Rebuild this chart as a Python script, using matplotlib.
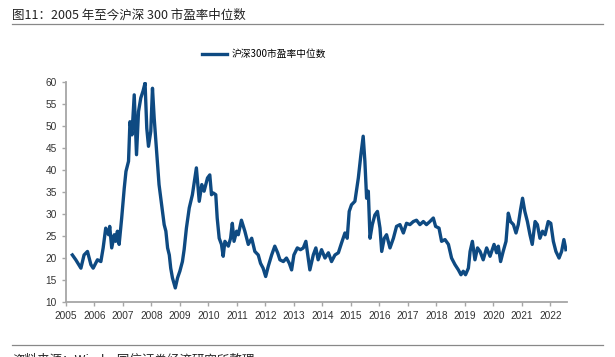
import numpy as np
import matplotlib
matplotlib.use("Agg")
import matplotlib.pyplot as plt

plt.rcParams['font.family'] = ['Noto Sans CJK SC', 'DejaVu Sans']

# decimal year, PE median
years = [
    2005.23, 2005.35, 2005.53, 2005.64, 2005.76, 2005.88, 2005.96, 2006.11, 2006.23, 2006.31,
    2006.40, 2006.50, 2006.54, 2006.61, 2006.70, 2006.75, 2006.81, 2006.87, 2006.96, 2007.05,
    2007.11, 2007.20, 2007.25, 2007.32, 2007.40, 2007.48, 2007.55, 2007.63, 2007.71, 2007.78,
    2007.84, 2007.90, 2007.98, 2008.04, 2008.10, 2008.16, 2008.22, 2008.27, 2008.33, 2008.39,
    2008.45, 2008.51, 2008.57, 2008.63, 2008.68, 2008.74, 2008.84, 2008.92, 2009.00, 2009.09,
    2009.15, 2009.23, 2009.33, 2009.44, 2009.58, 2009.68, 2009.77, 2009.85, 2009.97, 2010.05,
    2010.11, 2010.17, 2010.26, 2010.31, 2010.38, 2010.46, 2010.52, 2010.58, 2010.70, 2010.78,
    2010.84, 2010.90, 2010.99, 2011.05, 2011.16, 2011.28, 2011.40, 2011.52, 2011.63, 2011.75,
    2011.83, 2011.92, 2012.01, 2012.10, 2012.22, 2012.33, 2012.43, 2012.51, 2012.63, 2012.74,
    2012.84, 2012.92, 2013.00, 2013.12, 2013.23, 2013.33, 2013.42, 2013.50, 2013.56, 2013.68,
    2013.77, 2013.85, 2013.97, 2014.09, 2014.21, 2014.32, 2014.44, 2014.56, 2014.67, 2014.79,
    2014.87, 2014.94, 2015.02, 2015.14, 2015.26, 2015.35, 2015.43, 2015.49, 2015.55, 2015.61,
    2015.67, 2015.75, 2015.84, 2015.93, 2016.02, 2016.08, 2016.17, 2016.25, 2016.37, 2016.49,
    2016.60, 2016.72, 2016.84, 2016.95, 2017.07, 2017.19, 2017.30, 2017.42, 2017.54, 2017.65,
    2017.77, 2017.89, 2017.97, 2018.09, 2018.18, 2018.30, 2018.42, 2018.53, 2018.65, 2018.77,
    2018.86, 2018.94, 2019.02, 2019.12, 2019.18, 2019.26, 2019.35, 2019.44, 2019.53, 2019.64,
    2019.76, 2019.88, 2020.02, 2020.11, 2020.17, 2020.25, 2020.34, 2020.44, 2020.52, 2020.60,
    2020.70, 2020.79, 2020.87, 2020.95, 2021.02, 2021.10, 2021.19, 2021.28, 2021.36, 2021.46,
    2021.54, 2021.63, 2021.72, 2021.81, 2021.92, 2022.01, 2022.10, 2022.19, 2022.30, 2022.39,
    2022.47, 2022.54,
]
pe_median = [
    20.7, 19.6, 17.7, 20.7, 21.5, 18.5, 17.7, 19.6, 19.2, 22.3,
    26.8, 25.3, 27.2, 22.3, 25.3, 23.8, 26.1, 23.1, 29.1, 35.9,
    39.7, 42.0, 51.0, 48.0, 57.1, 43.5, 53.3, 56.4, 58.0, 59.8,
    49.5, 45.4, 48.8, 58.6, 51.8, 46.5, 41.2, 36.7, 33.6, 30.6,
    27.6, 26.1, 22.3, 20.7, 17.7, 15.5, 13.2, 15.5, 17.0, 19.2,
    21.9, 26.8, 31.4, 34.4, 40.5, 32.9, 36.7, 35.2, 38.2, 38.9,
    34.4, 34.8, 34.4, 29.1, 24.5, 23.1, 20.4, 23.8, 22.7, 24.5,
    27.9, 23.8, 26.1, 25.3, 28.6, 26.1, 23.1, 24.5, 21.5, 20.7,
    18.8, 17.7, 15.8, 18.1, 20.7, 22.7, 21.2, 19.6, 19.2, 20.0,
    18.8, 17.3, 20.7, 22.3, 21.9, 22.3, 23.8, 20.0, 17.3, 20.7,
    22.3, 19.6, 21.9, 20.0, 21.2, 19.2, 20.7, 21.2, 23.4, 25.7,
    24.5, 30.6, 32.1, 32.9, 38.2, 43.5, 47.7, 42.0, 33.6, 35.2,
    24.5, 27.6, 29.8, 30.6, 26.8, 21.5, 24.5, 25.3, 22.3, 24.5,
    27.2, 27.6, 25.7, 27.9, 27.6, 28.3, 28.6, 27.6, 28.3, 27.6,
    28.3, 29.1, 27.2, 26.8, 23.8, 24.2, 23.1, 20.0, 18.5, 17.3,
    16.2, 17.0, 16.2, 17.7, 21.5, 23.8, 19.6, 22.3, 21.5, 19.6,
    22.3, 20.4, 23.1, 21.2, 22.7, 19.2, 21.5, 23.8, 30.2, 28.3,
    27.6, 25.7, 27.6, 31.0, 33.6, 30.6, 28.3, 25.3, 23.1, 28.3,
    27.6, 24.5, 26.1, 25.3, 28.3, 27.9, 23.8, 21.5, 20.0, 21.5,
    24.2, 21.9,
]
year_ticks = list(range(2005, 2023))
y_ticks = [10, 15, 20, 25, 30, 35, 40, 45, 50, 55, 60]

fig = plt.figure(figsize=(6.15, 3.57), dpi=100)
ax = fig.add_axes([0.107, 0.154, 0.815, 0.616])

ax.plot(years, pe_median, color='#0e4a82', linewidth=2.4, label='沪深300市盈率中位数')

ax.set_xlim(2005, 2022.58)
ax.set_ylim(10, 60)
ax.set_xticks(year_ticks)
ax.set_xticklabels([str(y) for y in year_ticks])
ax.set_yticks(y_ticks)

for s in ['top', 'right']:
    ax.spines[s].set_visible(False)
for s in ['left', 'bottom']:
    ax.spines[s].set_color('#a6a6a6')
    ax.spines[s].set_linewidth(1.3)
ax.tick_params(axis='both', colors='#a6a6a6', length=3, width=1, labelcolor='#333333')
for lab in ax.get_xticklabels() + ax.get_yticklabels():
    lab.set_family(['Liberation Sans', 'DejaVu Sans'])
    lab.set_fontsize(7.3)

leg = ax.legend(loc='center', bbox_to_anchor=(0.395, 1.127), frameon=False,
                fontsize=7, handlelength=2.6, handletextpad=0.4)

fig.text(0.02, 0.958, '图11：2005 年至今沪深 300 市盈率中位数', fontsize=9, va='center', color='#222222')
fig.add_artist(plt.Line2D([0.02, 0.98], [0.933, 0.933], color='#888888', linewidth=0.9))
fig.add_artist(plt.Line2D([0.02, 0.98], [0.034, 0.034], color='#888888', linewidth=0.9))
fig.text(0.02, -0.008, '资料来源：Wind，国信证券经济研究所整理', fontsize=9, va='center', color='#222222')

fig.savefig('out.png', dpi=100)
